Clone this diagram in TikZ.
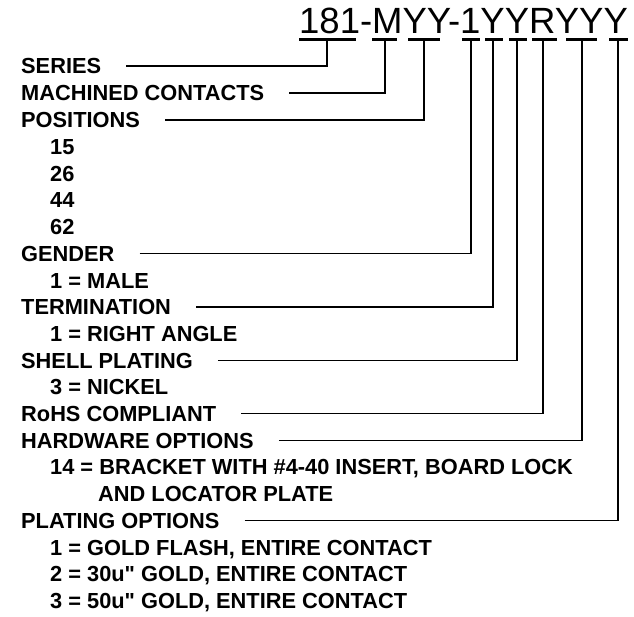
\documentclass[tikz,border=0pt]{standalone}
\usepackage{fontspec}
\setmainfont[Ligatures=TeXOff]{Liberation Sans}
\usetikzlibrary{calc,positioning}

\begin{document}
\begin{tikzpicture}[x=1pt,y=-1pt]
\tikzstyle{every node}=[inner sep=0pt, anchor=west,
                        font=\fontsize{21.8}{24}\selectfont\bfseries,
                        text height=15.6pt, text depth=0pt]
\tikzstyle{lead}=[line width=1.4pt]
\tikzstyle{uline}=[line width=3.5pt]
\useasboundingbox (0,0) rectangle (634,616);
% part number
\node[anchor=base west, font=\fontsize{36.5}{40}\selectfont,
      text height=26pt] (pn) at (299,33) {181-MYY-1YYRYYY};
\foreach \a/\b in {299/356,372/397,408/440,462/480,485/503,509/527,532/557,566/597,609/628}{\draw[uline] (\a,39.5) -- (\b,39.5);}
\coordinate (t1) at (327,39.5);
\coordinate (t2) at (385,39.5);
\coordinate (t3) at (424,39.5);
\coordinate (t4) at (471,39.5);
\coordinate (t5) at (493,39.5);
\coordinate (t6) at (517,39.5);
\coordinate (t7) at (543,39.5);
\coordinate (t8) at (582,39.5);
\coordinate (t9) at (618,39.5);
% legend
\node (ser) at (21,66) {SERIES};
\node (mc) at (21,93) {MACHINED CONTACTS};
\node (pos) at (21,120) {POSITIONS};
\node (p1) at (50,146.7) {15};
\node (p2) at (50,173.4) {26};
\node (p3) at (50,200.1) {44};
\node (p4) at (50,226.8) {62};
\node (gen) at (21,253.5) {GENDER};
\node (g1) at (50,280.2) {1 = MALE};
\node (ter) at (21,306.9) {TERMINATION};
\node (te1) at (50,333.6) {1 = RIGHT ANGLE};
\node (sh) at (21,360.3) {SHELL PLATING};
\node (sh1) at (50,387) {3 = NICKEL};
\node (rohs) at (21,413.7) {RoHS COMPLIANT};
\node (hw) at (21,440.4) {HARDWARE OPTIONS};
\node (hw1) at (50,467.1) {14 = BRACKET WITH \#4-40 INSERT, BOARD LOCK};
\node (hw2) at (98,493.8) {AND LOCATOR PLATE};
\node (pl) at (21,520.5) {PLATING OPTIONS};
\node (pl1) at (50,547.2) {1 = GOLD FLASH, ENTIRE CONTACT};
\node (pl2) at (50,573.9) {2 = 30u" GOLD, ENTIRE CONTACT};
\node (pl3) at (50,600.6) {3 = 50u" GOLD, ENTIRE CONTACT};
\foreach \i/\j in {ser/t1,mc/t2,pos/t3,gen/t4,ter/t5,sh/t6,rohs/t7,hw/t8,pl/t9}{\draw[lead] ([xshift=25pt]\i.east) -| (\j);}
\end{tikzpicture}
\end{document}
